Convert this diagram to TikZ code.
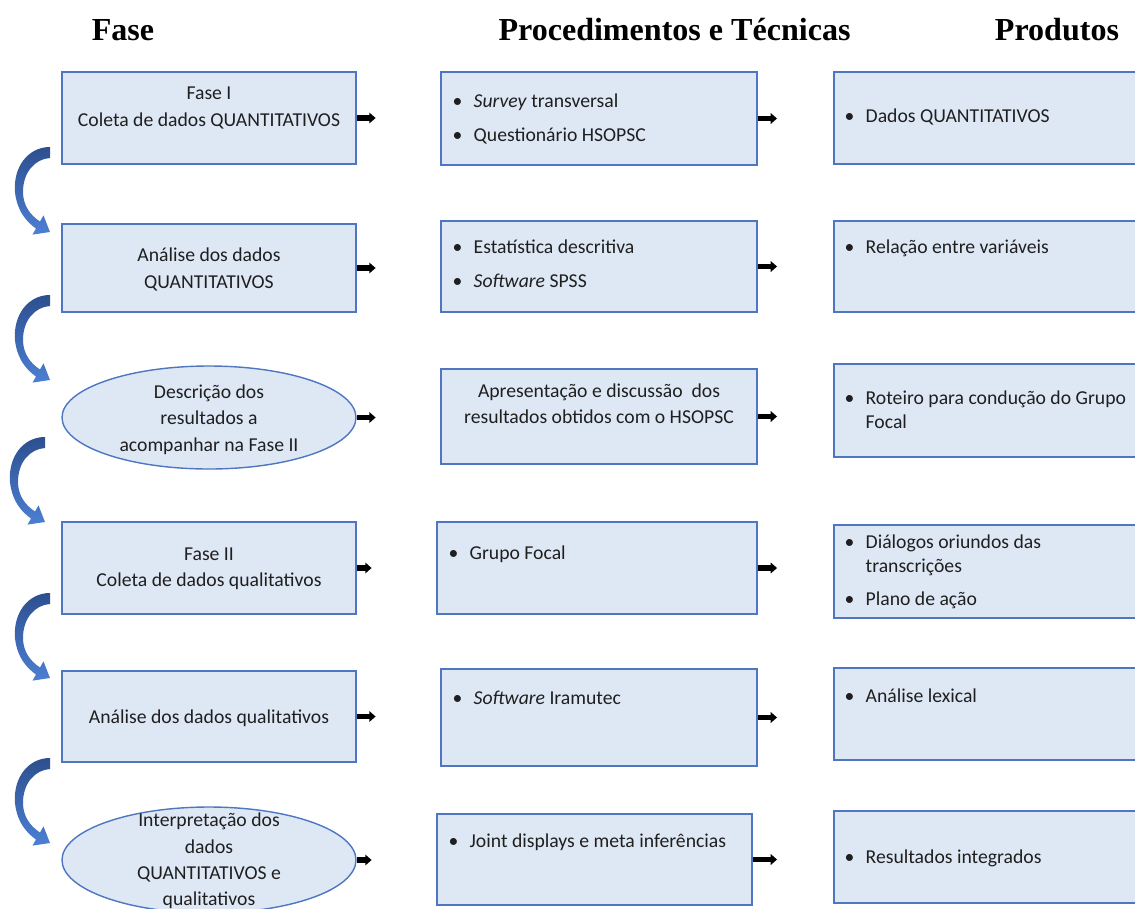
\documentclass[tikz,border=0pt]{standalone}
\usepackage{fontspec}
\setmainfont{Carlito}
\newfontfamily\headfont{Liberation Serif}
\usetikzlibrary{arrows.meta,shapes.geometric}

\definecolor{boxfill}{HTML}{DEE8F5}
\definecolor{boxline}{HTML}{4F76C0}
\definecolor{arrdark}{HTML}{2D4F8E}
\definecolor{arrlight}{HTML}{4C7FD3}

\tikzset{
    px/.style 2 args={minimum width=#1*0.025cm, minimum height=#2*0.025cm},
    caixa/.style={draw=boxline, fill=boxfill, line width=1pt, inner sep=0pt},
    elipse/.style={caixa, ellipse},
    titulo/.style={font=\headfont\bfseries\fontsize{22.8}{27}\selectfont, anchor=base},
    txtc/.style={align=center, inner sep=0pt, text=black!88, font=\fontsize{14}{18.8}\selectfont},
    txtl/.style={align=left, inner sep=0pt, anchor=north west, text=black!88, font=\fontsize{14}{17}\selectfont},
    seta/.style={-{Triangle[length=4.5pt,width=7.5pt]}, line width=3.6pt},
}

\newcommand{\bul}{\makebox[15pt][l]{\textbullet}}
\newcommand{\curva}[1]{%
    \shade[top color=arrdark, bottom color=arrlight, shift={#1}]
        (0,0) .. controls (-22,0) and (-37,20) .. (-35,45)
        .. controls (-33,65) and (-22,76) .. (-14,81.5)
        -- (-17.5,87.6) -- (0,85) -- (-6.5,68.4) -- (-10,74.5)
        .. controls (-20,68) and (-27,58) .. (-27,45)
        .. controls (-27,25) and (-15,12) .. (0,11) -- cycle;}

\begin{document}
\begin{tikzpicture}[x=0.025cm, y=-0.025cm]
        \clip (0,0) rectangle (1135,908);

        % Ueberschriften
        \node[titulo] (tfase) at (123,40) {Fase};
        \node[titulo] (tproc) at (674.5,40) {Procedimentos e Técnicas};
        \node[titulo] (tprod) at (1057,40) {Produtos};

        % Spalte Fase
        \node[caixa, px={294}{92}] (fs1) at (209,118) {};
        \node[caixa, px={294}{88}] (fs2) at (209,268) {};
        \node[elipse, px={294}{103}] (fs3) at (209,417.5) {};
        \node[caixa, px={294}{92}] (fs4) at (209,568) {};
        \node[caixa, px={294}{91}] (fs5) at (209,716.5) {};
        \node[elipse, px={294}{106}] (fs6) at (209,860) {};

        \node[txtc] (fs1t) at (209,108) {Fase I\\Coleta de dados QUANTITATIVOS};
        \node[txtc] (fs2t) at (209,269.5) {Análise dos dados\\QUANTITATIVOS};
        \node[txtc] (fs3t) at (209,419.5) {Descrição dos\\resultados a\\acompanhar na Fase II};
        \node[txtc] (fs4t) at (209,568.5) {Fase II\\Coleta de dados qualitativos};
        \node[txtc] (fs5t) at (209,718) {Análise dos dados qualitativos};
        \node[txtc] (fs6t) at (209,861) {Interpretação dos\\dados\\QUANTITATIVOS e\\qualitativos};

        % Spalte Procedimentos
        \node[caixa, px={316}{93}] (proc1) at (599,118.5) {};
        \node[caixa, px={316}{91}] (proc2) at (599,266.5) {};
        \node[caixa, px={316}{95}] (proc3) at (599,416.5) {};
        \node[caixa, px={320}{92}] (proc4) at (597,568) {};
        \node[caixa, px={316}{97}] (proc5) at (599,717.5) {};
        \node[caixa, px={315}{91}] (proc6) at (594.5,859.5) {};

        \node[txtl] (proc1t) at ([shift={(12,22)}]proc1.north west) {\bul\textit{Survey} transversal\\[7.5pt]\bul Questionário HSOPSC};
        \node[txtl] (proc2t) at ([shift={(12,19)}]proc2.north west) {\bul Estatística descritiva\\[7.5pt]\bul\textit{Software} SPSS};
        \node[txtc] (proc3t) at (599,404) {Apresentação e discussão\ \ dos\\resultados obtidos com o HSOPSC};
        \node[txtl] (proc4t) at ([shift={(12,24)}]proc4.north west) {\bul Grupo Focal};
        \node[txtl] (proc5t) at ([shift={(12,22)}]proc5.north west) {\bul\textit{Software} Iramutec};
        \node[txtl] (proc6t) at ([shift={(12,20)}]proc6.north west) {\bul Joint displays e meta inferências};

        % Spalte Produtos
        \node[caixa, px={316}{92}] (prod1) at (992,118) {};
        \node[caixa, px={316}{91}] (prod2) at (992,266.5) {};
        \node[caixa, px={316}{93}] (prod3) at (992,410.5) {};
        \node[caixa, px={316}{93}] (prod4) at (992,571.5) {};
        \node[caixa, px={316}{92}] (prod5) at (992,714) {};
        \node[caixa, px={316}{92}] (prod6) at (992,857) {};

        \node[txtl] (prod1t) at ([shift={(11,37)}]prod1.north west) {\bul Dados QUANTITATIVOS};
        \node[txtl] (prod2t) at ([shift={(11,19)}]prod2.north west) {\bul Relação entre variáveis};
        \node[txtl] (prod3t) at ([shift={(11,27)}]prod3.north west) {\bul Roteiro para condução do Grupo\\\hspace*{15pt}Focal};
        \node[txtl] (prod4t) at ([shift={(11,10)}]prod4.north west) {\bul Diálogos oriundos das\\\hspace*{15pt}transcrições\\[7pt]\bul Plano de ação};
        \node[txtl] (prod5t) at ([shift={(11,21)}]prod5.north west) {\bul Análise lexical};
        \node[txtl] (prod6t) at ([shift={(11,39)}]prod6.north west) {\bul Resultados integrados};

        % Pfeile zwischen den Spalten
        \foreach \i in {1,...,6} {
            \draw[seta, shorten >=46pt] (fs\i.east) -- (fs\i.east -| proc\i.west);
            \draw[seta, shorten >=40pt] (proc\i.east) -- (proc\i.east -| prod\i.west);
        }

        % gebogene Pfeile links
        \curva{(50,147)}
        \curva{(50,295)}
        \curva{(45,437)}
        \curva{(50,593)}
        \curva{(50,758)}
    \end{tikzpicture}
\end{document}
